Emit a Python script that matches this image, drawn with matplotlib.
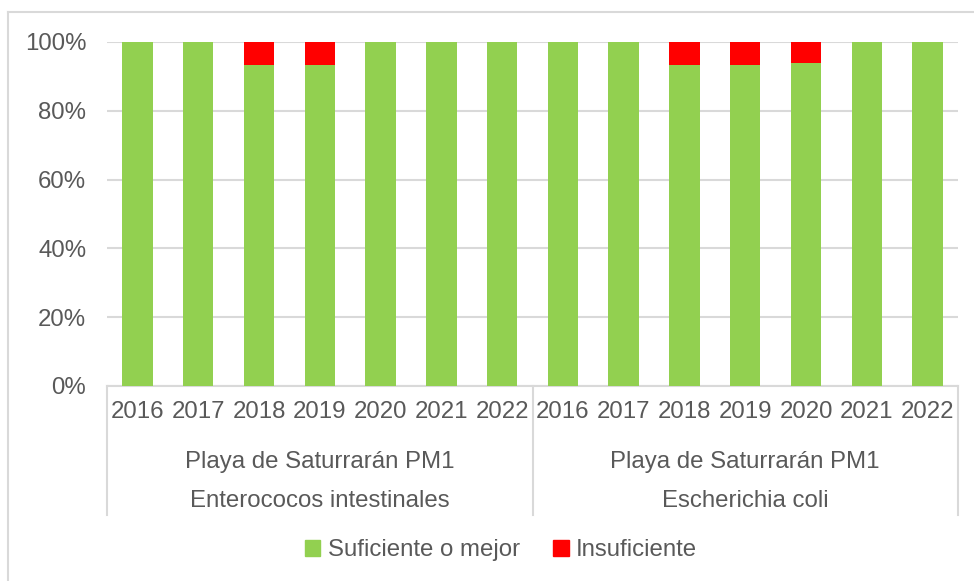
import matplotlib
matplotlib.use('Agg')
import matplotlib.pyplot as plt
from matplotlib.lines import Line2D
from matplotlib.patches import Patch
import matplotlib.transforms as mtransforms
import numpy as np

plt.rcParams['font.family'] = ['Liberation Sans', 'DejaVu Sans']

years = ['2016', '2017', '2018', '2019', '2020', '2021', '2022']
site = 'Playa de Saturrarán PM1'
indicators = ['Enterococos intestinales', 'Escherichia coli']

# % of samples per class
suficiente_ent = [100, 100, 93.3, 93.3, 100, 100, 100]
insuficiente_ent = [0, 0, 6.7, 6.7, 0, 0, 0]
suficiente_ecoli = [100, 100, 93.3, 93.3, 93.8, 100, 100]
insuficiente_ecoli = [0, 0, 6.7, 6.7, 6.2, 0, 0]

green = '#92D050'
red = '#FF0000'
txt = '#595959'
grid = '#D9D9D9'
fs = 17.3

W, H = 974, 581
fig = plt.figure(figsize=(W / 100, H / 100), dpi=100)
ax = fig.add_axes([107 / W, 1 - 386 / H, 851 / W, 344 / H])

suf = np.array(suficiente_ent + suficiente_ecoli) / 100
ins = np.array(insuficiente_ent + insuficiente_ecoli) / 100
x = np.arange(len(suf))

ax.bar(x, suf, width=0.5, color=green, zorder=3)
ax.bar(x, ins, width=0.5, bottom=suf, color=red, zorder=3)

ax.set_xlim(-0.5, len(suf) - 0.5)
ax.set_ylim(0, 1)
ax.set_yticks(np.arange(0, 1.01, 0.2))
ax.set_yticklabels([f'{int(round(v * 100))}%' for v in np.arange(0, 1.01, 0.2)])
ax.yaxis.grid(True, color=grid, linewidth=1.5, zorder=0)
ax.tick_params(axis='y', length=0, pad=15, labelsize=fs, labelcolor=txt)

ax.set_xticks(x)
ax.set_xticklabels(years * 2)
ax.tick_params(axis='x', length=0, pad=11, labelsize=fs, labelcolor=txt)

for s in ['top', 'right', 'left']:
    ax.spines[s].set_visible(False)
ax.spines['bottom'].set_color(grid)
ax.spines['bottom'].set_linewidth(1.5)

# group separators and labels under the axis
trans = mtransforms.blended_transform_factory(ax.transData, ax.transAxes)
ybot = (386 - 515) / 344
for xs in [-0.5, 6.5, 13.5]:
    ax.plot([xs, xs], [0, ybot], color=grid, linewidth=1.5, transform=trans, clip_on=False)
for i, ind in enumerate(indicators):
    xc = i * 7 + 3
    ax.text(xc, (386 - 462) / 344, site, transform=trans, ha='center', va='center',
            fontsize=fs, color=txt)
    ax.text(xc, (386 - 501) / 344, ind, transform=trans, ha='center', va='center',
            fontsize=fs, color=txt)

# chart frame (left and top edges visible)
fig.add_artist(Line2D([8 / W, 8 / W], [0, 1 - 12 / H], color=grid, linewidth=1.5))
fig.add_artist(Line2D([8 / W, 1], [1 - 12 / H, 1 - 12 / H], color=grid, linewidth=1.5))

handles = [Patch(color=green, label='Suficiente o mejor'),
           Patch(color=red, label='Insuficiente')]
leg = fig.legend(handles=handles, loc='center', bbox_to_anchor=(501 / W, 1 - 550 / H),
                 ncol=2, frameon=False, fontsize=fs, handlelength=0.65, handleheight=0.65,
                 handletextpad=0.3, columnspacing=1.4)
for t in leg.get_texts():
    t.set_color(txt)

fig.savefig('out.png', dpi=100)
